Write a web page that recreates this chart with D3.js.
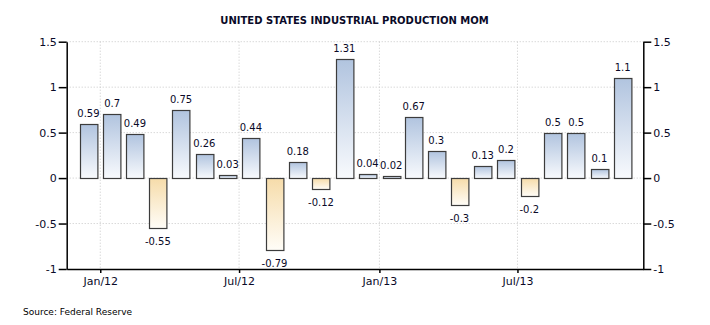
<!DOCTYPE html>
<html>
<head>
<meta charset="utf-8">
<script src="https://cdn.jsdelivr.net/npm/d3@7"></script>
<style>
    body { margin: 0; background: #fff; }
    text { font-family: "DejaVu Sans", Verdana, sans-serif; fill: #0a0a28; }
</style>
</head>
<body>
<svg id="chart" width="710" height="325"></svg>
<script>
// monthly % change, Dec 2011 .. Nov 2013
const months = [
    "2011-12", "2012-01", "2012-02", "2012-03", "2012-04", "2012-05",
    "2012-06", "2012-07", "2012-08", "2012-09", "2012-10", "2012-11",
    "2012-12", "2013-01", "2013-02", "2013-03", "2013-04", "2013-05",
    "2013-06", "2013-07", "2013-08", "2013-09", "2013-10", "2013-11"
];
const values = [
    0.59, 0.7, 0.49, -0.55, 0.75, 0.26, 0.03, 0.44, -0.79, 0.18, -0.12, 1.31,
    0.04, 0.02, 0.67, 0.3, -0.3, 0.13, 0.2, -0.2, 0.5, 0.5, 0.1, 1.1
];
const yTicks = [-1, -0.5, 0, 0.5, 1, 1.5];
const xTicks = ["2012-01", "2012-07", "2013-01", "2013-07"];
const xTickLabels = ["Jan/12", "Jul/12", "Jan/13", "Jul/13"];

const parseMonth = d3.timeParse("%Y-%m");

const plotLeft = 66.7, plotRight = 643.3, plotTop = 41.7, plotBottom = 269;
const barWidth = 17.4;

const svg = d3.select("#chart");

const x = d3.scaleTime()
    .domain([new Date(2011, 10, 18), new Date(2013, 11, 13)])
    .range([plotLeft, plotRight]);
const y = d3.scaleLinear().domain([-1, 1.5]).range([plotBottom, plotTop]);

// gradients
const defs = svg.append("defs");
function gradient(id, c1, c2) {
    const g = defs.append("linearGradient")
        .attr("id", id)
        .attr("x1", 0).attr("y1", 0).attr("x2", 0).attr("y2", 1);
    g.append("stop").attr("offset", "0%").attr("stop-color", c1);
    g.append("stop").attr("offset", "100%").attr("stop-color", c2);
}
gradient("pos", "#b1c4df", "#f8fafd");
gradient("neg", "#f6dcaa", "#fffdf8");

// grid
const grid = svg.append("g")
    .attr("stroke", "#c8c8c8")
    .attr("stroke-dasharray", "1,2");
grid.selectAll("line.h")
    .data(yTicks.filter(d => d > -1))
    .enter().append("line")
    .attr("x1", plotLeft).attr("x2", plotRight)
    .attr("y1", d => y(d)).attr("y2", d => y(d));
grid.selectAll("line.v")
    .data(xTicks)
    .enter().append("line")
    .attr("x1", d => x(parseMonth(d))).attr("x2", d => x(parseMonth(d)))
    .attr("y1", plotTop).attr("y2", plotBottom);

// bars, centred on the middle of each month
const data = months.map((m, i) => {
    const start = parseMonth(m);
    const end = d3.timeMonth.offset(start, 1);
    return { mid: new Date((+start + +end) / 2), value: values[i] };
});

svg.append("g")
    .selectAll("rect")
    .data(data)
    .enter().append("rect")
    .attr("x", d => Math.round(x(d.mid) - barWidth / 2) + 0.5)
    .attr("width", barWidth)
    .attr("y", d => Math.round(y(Math.max(0, d.value))) + 0.5)
    .attr("height", d => Math.abs(Math.round(y(d.value)) - Math.round(y(0))))
    .attr("fill", d => d.value >= 0 ? "url(#pos)" : "url(#neg)")
    .attr("stroke", "#3c3c3c")
    .attr("stroke-width", 1.2);

svg.append("g")
    .selectAll("text")
    .data(data)
    .enter().append("text")
    .attr("x", d => x(d.mid))
    .attr("y", d => d.value >= 0 ? y(d.value) - 7 : y(d.value) + 17)
    .attr("text-anchor", "middle")
    .style("font-size", "10px")
    .text(d => d.value);

// axes (plain hyphen for negatives, like the original)
const fmt = d => String(d);
const axisLeft = d3.axisLeft(y).tickValues(yTicks).tickSize(8).tickPadding(2)
    .tickSizeOuter(0).tickFormat(fmt);
const axisRight = d3.axisRight(y).tickValues(yTicks).tickSize(8).tickPadding(2)
    .tickSizeOuter(0).tickFormat(fmt);
const axisBottom = d3.axisBottom(x)
    .tickValues(xTicks.map(parseMonth))
    .tickSize(4).tickSizeOuter(0).tickPadding(4)
    .tickFormat((d, i) => xTickLabels[i]);

function styleAxis(g) {
    g.select(".domain").attr("stroke", "#000").attr("stroke-width", 1.5);
    g.selectAll(".tick line").attr("stroke", "#000").attr("stroke-width", 1.5);
    g.selectAll("text").style("font-size", "11px").attr("fill", "#0a0a28")
        .style("font-family", "\"DejaVu Sans\", sans-serif");
}

svg.append("g").attr("transform", `translate(${plotLeft},0)`)
    .call(axisLeft).call(styleAxis);
svg.append("g").attr("transform", `translate(${plotRight},0)`)
    .call(axisRight).call(styleAxis);
svg.append("g").attr("transform", `translate(0,${plotBottom})`)
    .call(axisBottom).call(styleAxis);

// title and source
svg.append("text")
    .attr("x", 354.5).attr("y", 24)
    .attr("text-anchor", "middle")
    .style("font-size", "10px")
    .style("font-weight", "bold")
    .text("UNITED STATES INDUSTRIAL PRODUCTION MOM");

svg.append("text")
    .attr("x", 23).attr("y", 315)
    .style("font-size", "9px")
    .style("fill", "#000")
    .text("Source: Federal Reserve");
</script>
</body>
</html>
